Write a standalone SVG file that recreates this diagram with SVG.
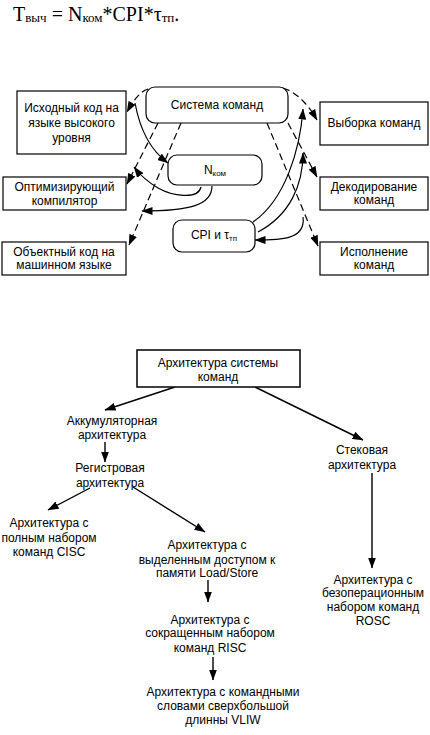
<svg xmlns="http://www.w3.org/2000/svg" width="430" height="735" viewBox="0 0 430 735">
<style>
text{font-family:"Liberation Sans",Arial,sans-serif;font-size:12px;fill:#000;text-anchor:middle}
.f{font-family:"Liberation Serif","Times New Roman",serif;font-size:20px;text-anchor:start}
.b{font-size:12px}
.box{fill:#fff;stroke:#000;stroke-width:1.2}
.big{fill:#fff;stroke:#000;stroke-width:1.5}
.c{fill:none;stroke:#000;stroke-width:1.2}
.d{fill:none;stroke:#000;stroke-width:1.2;stroke-dasharray:7 4}
.a{marker-end:url(#ah)}
.t{fill:none;stroke:#000;stroke-width:1.4;marker-end:url(#ah)}
</style>
<defs>
<marker id="ah" markerWidth="11" markerHeight="8" refX="10.5" refY="4" orient="auto" markerUnits="userSpaceOnUse"><path d="M0,0 L11,4 L0,8 z" fill="#000"/></marker>
</defs>
<rect width="430" height="735" fill="#fff"/>
<text class="f" x="13" y="21">T<tspan font-size="13" dy="1">выч</tspan><tspan dy="-1"> = N</tspan><tspan font-size="13" dy="1">ком</tspan><tspan dy="-1">*CPI*τ</tspan><tspan font-size="13" dy="1">тп</tspan><tspan dy="-1">.</tspan></text>

<g id="connectors-top">
<path class="d a" d="M148,89 Q138,92 127,112"/>
<path class="d a" d="M158,123 L127,184"/>
<path class="d a" d="M181,123 L129,245"/>
<path class="d a" d="M283,88 Q302,94 317,120"/>
<path class="d a" d="M288,123 L317,177"/>
<path class="d a" d="M267,123 L318,246"/>
<path class="c a" d="M135,103 C140,130 150,150 168,163"/>
<path class="c a" d="M201,187 C198,200 172,196 158,188 C148,182 140,175 134,167"/>
<path class="c a" d="M212,186 C212,205 190,211 142,211"/>
<path class="c a" d="M253,222 C285,200 300,150 303,109"/>
<path class="c a" d="M258,232 C290,215 303,185 303,153"/>
<path class="c a" d="M303,217 C306,240 280,240 255,240"/>
</g>

<g id="n-src"><rect class="box" x="17" y="91" width="109" height="63"/><text x="71.5" y="112">Исходный код на</text><text x="71.5" y="127">языке высокого</text><text x="71.5" y="142">уровня</text></g>
<g id="n-opt"><rect class="box" x="3" y="177" width="123" height="33"/><text x="64.5" y="191">Оптимизирующий</text><text x="64.5" y="205">компилятор</text></g>
<g id="n-obj"><rect class="box" x="2" y="242" width="124" height="33"/><text x="64" y="256">Объектный код на</text><text x="64" y="269">машинном языке</text></g>
<g id="n-sys"><rect class="box" x="146" y="87" width="142" height="36" rx="9"/><text x="217" y="109">Система команд</text></g>
<g id="n-nkom"><rect class="box" x="168" y="155" width="94" height="30" rx="9"/><text x="215" y="174">N<tspan font-size="8" dy="2">ком</tspan></text></g>
<g id="n-cpi"><rect class="box" x="173" y="220" width="82" height="32" rx="9"/><text x="214" y="239">CPI и τ<tspan font-size="8" dy="2">тп</tspan></text></g>
<g id="n-fetch"><rect class="box" x="320" y="102" width="108" height="43"/><text x="374" y="127">Выборка команд</text></g>
<g id="n-dec"><rect class="box" x="320" y="177" width="108" height="33"/><text x="374" y="191">Декодирование</text><text x="374" y="204">команд</text></g>
<g id="n-exec"><rect class="box" x="320" y="242" width="108" height="33"/><text x="374" y="256">Исполнение</text><text x="374" y="269">команд</text></g>

<g id="connectors-bottom">
<line class="t" x1="175" y1="387" x2="105" y2="410"/>
<line class="t" x1="255" y1="387" x2="363" y2="440"/>
<line class="t" x1="105" y1="442" x2="105" y2="462"/>
<line class="t" x1="90" y1="488" x2="48" y2="510"/>
<line class="t" x1="133" y1="487" x2="205" y2="532"/>
<line class="t" x1="208" y1="580" x2="208" y2="602"/>
<line class="t" x1="372" y1="473" x2="372" y2="568"/>
<line class="t" x1="213" y1="657" x2="213" y2="680"/>
</g>

<g id="n-isa"><rect class="big" x="137" y="350" width="163" height="37"/><text class="b" x="218" y="367">Архитектура системы</text><text class="b" x="218" y="381">команд</text></g>
<g id="n-acc"><text class="b" x="112" y="425">Аккумуляторная</text><text class="b" x="112" y="439">архитектура</text></g>
<g id="n-reg"><text class="b" x="110" y="472">Регистровая</text><text class="b" x="110" y="487">архитектура</text></g>
<g id="n-stack"><text class="b" x="362" y="454">Стековая</text><text class="b" x="362" y="469">архитектура</text></g>
<g id="n-cisc"><text class="b" x="49" y="527">Архитектура с</text><text class="b" x="49" y="542">полным набором</text><text class="b" x="49" y="556">команд CISC</text></g>
<g id="n-ls"><text class="b" x="207" y="549">Архитектура с</text><text class="b" x="207" y="564">выделенным доступом к</text><text class="b" x="207" y="577">памяти Load/Store</text></g>
<g id="n-rosc"><text class="b" x="373" y="584">Архитектура с</text><text class="b" x="373" y="597">безоперационным</text><text class="b" x="373" y="611">набором команд</text><text class="b" x="373" y="625">ROSC</text></g>
<g id="n-risc"><text class="b" x="210" y="624">Архитектура с</text><text class="b" x="210" y="637">сокращенным набором</text><text class="b" x="210" y="652">команд  RISC</text></g>
<g id="n-vliw"><text class="b" x="223" y="696">Архитектура с командными</text><text class="b" x="223" y="710">словами сверхбольшой</text><text class="b" x="223" y="724">длинны VLIW</text></g>
</svg>
